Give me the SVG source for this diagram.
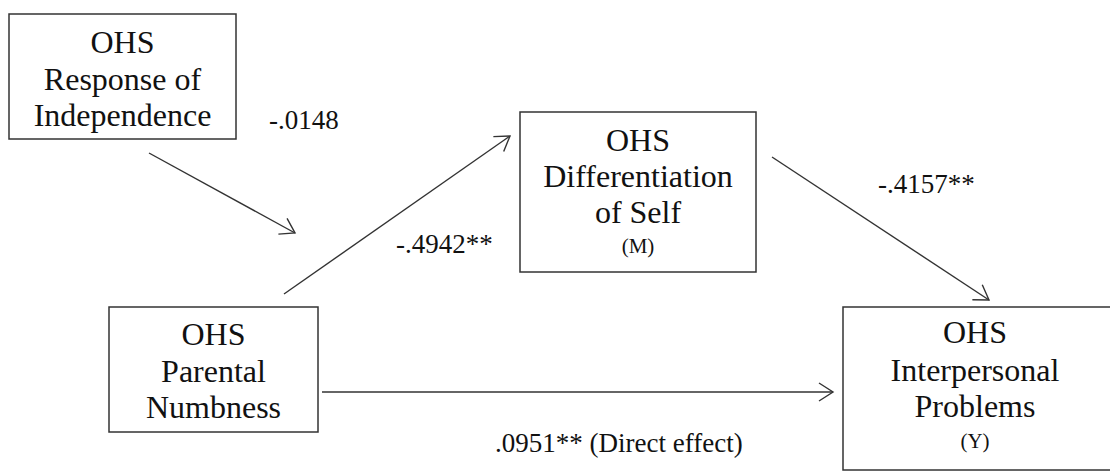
<svg xmlns="http://www.w3.org/2000/svg" width="1110" height="476" viewBox="0 0 1110 476">
<style>
.box{fill:#fff;stroke:#333;stroke-width:1.5}
.t{font-family:"Liberation Serif","Times New Roman","DejaVu Serif",serif;font-size:32px;fill:#111;text-anchor:middle}
.s{font-family:"Liberation Serif","Times New Roman","DejaVu Serif",serif;font-size:21px;fill:#111;text-anchor:middle}
.lbl{font-family:"Liberation Serif","Times New Roman","DejaVu Serif",serif;font-size:27px;fill:#111}
.c{stroke:#333;stroke-width:1.4;fill:none;marker-end:url(#arr)}
</style>
<defs>
<marker id="arr" markerUnits="userSpaceOnUse" viewBox="-16 -11 18 22" refX="0" refY="0" markerWidth="18" markerHeight="22" orient="auto">
<path d="M-14,-9 L0,0 L-14,9" fill="none" stroke="#333" stroke-width="1.4"/>
</marker>
</defs>
<rect width="1110" height="476" fill="#fff"/>
<g id="connectors">
<line class="c" x1="149" y1="153" x2="295" y2="233"/>
<line class="c" x1="284" y1="294" x2="510" y2="136"/>
<line class="c" x1="772" y1="157" x2="989" y2="300"/>
<line class="c" x1="322" y1="392" x2="833" y2="392"/>
</g>
<g id="node-independence">
<rect class="box" x="9" y="14" width="227" height="125"/>
<text class="t" x="122.5" y="53">OHS</text>
<text class="t" x="122.5" y="90">Response of</text>
<text class="t" x="122.5" y="126">Independence</text>
</g>
<g id="node-numbness">
<rect class="box" x="109" y="307" width="209" height="125"/>
<text class="t" x="213.5" y="345">OHS</text>
<text class="t" x="213.5" y="381.5">Parental</text>
<text class="t" x="213.5" y="417.5">Numbness</text>
</g>
<g id="node-differentiation">
<rect class="box" x="520" y="112" width="236" height="160"/>
<text class="t" x="638" y="150.5">OHS</text>
<text class="t" x="638" y="187">Differentiation</text>
<text class="t" x="638" y="222.5">of Self</text>
<text class="s" x="638" y="253">(M)</text>
</g>
<g id="node-interpersonal">
<rect class="box" x="843" y="307" width="280" height="163"/>
<text class="t" x="975" y="343">OHS</text>
<text class="t" x="975" y="381">Interpersonal</text>
<text class="t" x="975" y="416.5">Problems</text>
<text class="s" x="975" y="448">(Y)</text>
</g>
<g id="labels">
<text class="lbl" x="269" y="129">-.0148</text>
<text class="lbl" x="396" y="253">-.4942**</text>
<text class="lbl" x="878" y="193">-.4157**</text>
<text class="lbl" x="495" y="452">.0951** (Direct effect)</text>
</g>
</svg>
